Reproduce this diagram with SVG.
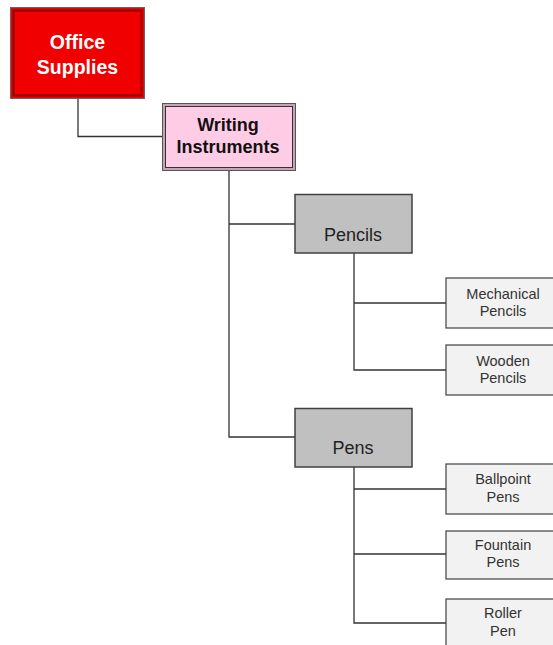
<svg xmlns="http://www.w3.org/2000/svg" width="553" height="645" viewBox="0 0 553 645">
<style>
.t{font-family:"Liberation Sans",Arial,sans-serif;text-anchor:middle}
.b{font-weight:bold}
.mid{fill:#C0C0C0;stroke:#404040;stroke-width:1.5}
.leaf{fill:#F2F2F2;stroke:#404040;stroke-width:1.2}
.lt{font-size:14.5px;fill:#333}
.c{fill:none;stroke:#333;stroke-width:1.3}
</style>
<rect width="553" height="645" fill="#fff"/>
<g id="connectors">
<polyline class="c" points="78,98 78,136.5 163,136.5"/>
<polyline class="c" points="229,171 229,437 295,437"/>
<line class="c" x1="229" y1="224" x2="295" y2="224"/>
<polyline class="c" points="354,253 354,370 446,370"/>
<line class="c" x1="354" y1="303" x2="446" y2="303"/>
<polyline class="c" points="354,467 354,623 446,623"/>
<line class="c" x1="354" y1="489" x2="446" y2="489"/>
<line class="c" x1="354" y1="554" x2="446" y2="554"/>
</g>
<g id="office-supplies">
<rect x="10.5" y="7.5" width="134" height="91" fill="#F00000" stroke="#666" stroke-width="1"/>
<rect x="13.5" y="10.5" width="128" height="85" fill="#F00000" stroke="#8B0000" stroke-width="2"/>
<text class="t b" x="77.5" y="49" font-size="19.5" fill="#FFFFFF">Office</text>
<text class="t b" x="77.5" y="74" font-size="19.5" fill="#FFFFFF">Supplies</text>
</g>
<g id="writing-instruments">
<rect x="162.5" y="103.5" width="133" height="67" fill="#C9A3B4" stroke="#555" stroke-width="1"/>
<rect x="165.5" y="106.5" width="127" height="61" fill="#FFCCE6" stroke="#333" stroke-width="1"/>
<text class="t b" x="228" y="131" font-size="18" fill="#111">Writing</text>
<text class="t b" x="228" y="153" font-size="18" fill="#111">Instruments</text>
</g>
<g id="pencils">
<rect class="mid" x="295" y="194.5" width="117" height="58.5"/>
<text class="t" x="353" y="241" font-size="18" fill="#222">Pencils</text>
</g>
<g id="mechanical-pencils">
<rect class="leaf" x="446" y="278" width="117" height="50"/>
<text class="t lt" x="503" y="299">Mechanical</text>
<text class="t lt" x="503" y="316">Pencils</text>
</g>
<g id="wooden-pencils">
<rect class="leaf" x="446" y="345" width="117" height="50"/>
<text class="t lt" x="503" y="366">Wooden</text>
<text class="t lt" x="503" y="383">Pencils</text>
</g>
<g id="pens">
<rect class="mid" x="295" y="408.5" width="117" height="58.5"/>
<text class="t" x="353" y="454" font-size="18" fill="#222">Pens</text>
</g>
<g id="ballpoint-pens">
<rect class="leaf" x="446" y="464" width="117" height="50"/>
<text class="t lt" x="503" y="484">Ballpoint</text>
<text class="t lt" x="503" y="502">Pens</text>
</g>
<g id="fountain-pens">
<rect class="leaf" x="446" y="531" width="117" height="48"/>
<text class="t lt" x="503" y="550">Fountain</text>
<text class="t lt" x="503" y="567">Pens</text>
</g>
<g id="roller-pen">
<rect class="leaf" x="446" y="599" width="117" height="50"/>
<text class="t lt" x="503" y="618">Roller</text>
<text class="t lt" x="503" y="636">Pen</text>
</g>
</svg>
